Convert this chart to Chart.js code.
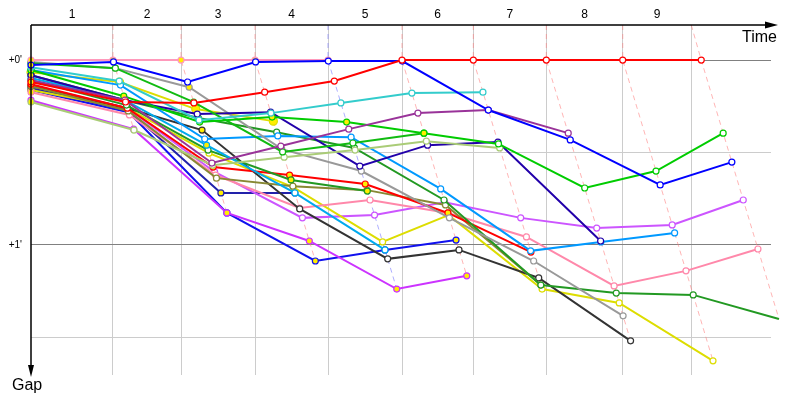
<!DOCTYPE html>
<html>
<head>
<meta charset="utf-8">
<script src="https://cdn.jsdelivr.net/npm/chart.js@4.4.1/dist/chart.umd.min.js"></script>
<style>
  html, body { margin: 0; padding: 0; background: #fff; }
  #wrap { width: 800px; height: 400px; }
</style>
</head>
<body>
<div id="wrap"><canvas id="gapChart" width="800" height="400"></canvas></div>
<script>
// lap labels, where each lap mark sits on the time axis (s), leader time at each lap (s)
const lapLabels = ['1', '2', '3', '4', '5', '6', '7', '8', '9'];
const lapMarks = [88.6, 162.2, 242.2, 321.1, 401.1, 478.2, 557.1, 639.7, 713.8];
const leaderTimes = [0, 88.6, 162.2, 242.2, 321.1, 401.1, 478.2, 557.1, 639.7, 724.6];
const gapTicks = [0, 30, 60, 90];
const gapTickLabels = ["+0'", '', "+1'", ''];

// gap to leader (s) per lap, lap 0 = start
const redGaps = [7.1, 13.6, 13.9, 10.4, 6.8, 0, 0, 0, 0, 0];
const blueGaps = [1.6, 0.6, 7.1, 0.6, 0.3, 0.3, 16.2, 25.9, 40.5, 33.1];
const pinkGaps = [0, 0, 0, 0, 0];
const cyanGaps = [2.3, 6.8, 19.5, 17.2, 13.9, 10.7, 10.4];
const purpleGaps = [6.5, 13.0, 33.4, 27.9, 22.4, 17.2, 16.2, 23.7];
const green1Gaps = [3.2, 11.7, 20.1, 18.5, 20.1, 23.7, 27.2, 41.5, 36.0, 23.7];
const green2Gaps = [1.0, 2.6, 13.6, 29.8, 26.9, 23.7];
const lightGreenGaps = [13.6, 22.7, 34.1, 31.5, 29.2, 26.3, 28.5];
const navyGaps = [4.9, 13.0, 17.5, 16.9, 34.4, 27.6, 26.6, 58.7];
const greyGaps = [0.6, 2.6, 8.8, 28.9, 36.0, 51.2, 65.2, 83.0];
const skyGaps = [3.2, 8.1, 25.6, 24.6, 25.0, 41.8, 61.9, 59.0, 56.1];
const sky2Gaps = [5.8, 13.0, 27.6, 43.1, 61.6];
const darkGreenGaps = [4.9, 13.0, 18.8, 23.4, 28.5, 45.4, 73.0, 75.6, 76.2, 84.0];
const darkGreen2Gaps = [6.5, 14.6, 29.2, 38.9, 42.5];
const red2Gaps = [7.8, 15.6, 34.7, 37.3, 40.2, 49.6, 62.3];
const oliveGaps = [8.4, 16.5, 38.3, 40.9, 42.2, 47.0, 73.0];
const blackGaps = [8.4, 15.6, 22.7, 48.3, 64.5, 61.6, 70.7, 91.1];
const pink2Gaps = [10.4, 17.8, 37.3, 48.0, 45.4, 49.6, 57.4, 73.3, 68.4, 61.3];
const yellowGaps = [3.9, 7.1, 15.9, 19.8];
const yellow2Gaps = [9.7, 15.6, 30.2, 41.2, 59.0, 50.3, 74.3, 78.8, 97.6];
const violetGaps = [8.1, 15.6, 36.3, 51.2, 50.3, 46.1, 51.2, 54.5, 53.5, 45.4];
const magentaGaps = [13.0, 22.4, 49.6, 58.7, 74.3, 70.0];
const blue2Gaps = [9.7, 16.9, 49.6, 65.2, 61.6, 58.4];
const navy2Gaps = [9.1, 16.2, 43.1, 43.1];

// laps run under yellow
const pinkYellow = [1, 2, 3, 4];
const greyYellow = [1, 2];
const green1Yellow = [1, 2, 3, 4, 5];
const darkGreen2Yellow = [3, 4];
const sky2Yellow = [2];
const red2Yellow = [2, 3, 4, 5, 6];
const blackYellow = [2];
const yellowYellow = [1, 2, 3];
const magentaYellow = [1, 2, 3, 4, 5];
const blue2Yellow = [2, 3, 4, 5];
const navy2Yellow = [2, 3];

const gapMin = -11.4;
const gapMax = 102.2;

const series = [
  { gaps: redGaps, yellow: [], color: '#ff0000' },
  { gaps: blueGaps, yellow: [], color: '#0000ff' },
  { gaps: pinkGaps, yellow: pinkYellow, color: '#ff99bb' },
  { gaps: cyanGaps, yellow: [], color: '#33cccc' },
  { gaps: purpleGaps, yellow: [], color: '#993399' },
  { gaps: green1Gaps, yellow: green1Yellow, color: '#00cc00' },
  { gaps: green2Gaps, yellow: [], color: '#11bb11' },
  { gaps: lightGreenGaps, yellow: [], color: '#aacc77' },
  { gaps: navyGaps, yellow: [], color: '#2200aa' },
  { gaps: greyGaps, yellow: greyYellow, color: '#999999' },
  { gaps: skyGaps, yellow: [], color: '#0099ff' },
  { gaps: sky2Gaps, yellow: sky2Yellow, color: '#00aaee' },
  { gaps: darkGreenGaps, yellow: [], color: '#229922' },
  { gaps: darkGreen2Gaps, yellow: darkGreen2Yellow, color: '#229922' },
  { gaps: red2Gaps, yellow: red2Yellow, color: '#ff0000' },
  { gaps: oliveGaps, yellow: [], color: '#888833' },
  { gaps: blackGaps, yellow: blackYellow, color: '#333333' },
  { gaps: pink2Gaps, yellow: [], color: '#ff88aa' },
  { gaps: yellowGaps, yellow: yellowYellow, color: '#dddd00', big: true },
  { gaps: yellow2Gaps, yellow: [], color: '#dddd00' },
  { gaps: violetGaps, yellow: [], color: '#cc55ff' },
  { gaps: magentaGaps, yellow: magentaYellow, color: '#cc33ff' },
  { gaps: blue2Gaps, yellow: blue2Yellow, color: '#1111ee' },
  { gaps: navy2Gaps, yellow: navy2Yellow, color: '#2222aa' }
];

const seriesSets = series.map(s => ({
  data: s.gaps.map((g, lap) => ({
    x: lap === 0 ? 0 : leaderTimes[lap] + g,
    y: g,
    flag: lap === 0 || s.yellow.includes(lap)
  })),
  borderColor: s.color,
  borderWidth: 2,
  pointRadius: s.big ? 4 : 3,
  pointBorderWidth: 1.2,
  pointBorderColor: s.color,
  pointBackgroundColor: c => (c.raw && c.raw.flag ? '#ffee00' : '#ffffff'),
  clip: false,
  order: 1
}));

// dashed line through every car's point on the same lap
const lapLineSets = lapMarks.map((mark, i) => {
  const lap = i + 1;
  const pts = series
    .filter(s => s.gaps.length > lap)
    .map(s => ({ x: leaderTimes[lap] + s.gaps[lap], y: s.gaps[lap] }))
    .sort((p, q) => p.y - q.y);
  return {
    data: [{ x: mark, y: gapMin }, ...pts],
    borderColor: lap === 4 ? 'rgba(120,120,255,0.6)' : 'rgba(255,120,120,0.55)',
    borderWidth: 1,
    borderDash: [5, 4],
    pointRadius: 0,
    clip: false,
    order: 2
  };
});

const xTicks = [];
lapMarks.forEach((mark, i) => {
  const prev = i === 0 ? 0 : lapMarks[i - 1];
  xTicks.push((prev + mark) / 2, mark);
});

const axisArrows = {
  id: 'axisArrows',
  afterDraw(chart) {
    const { ctx, chartArea: a } = chart;
    ctx.save();
    ctx.strokeStyle = '#000';
    ctx.fillStyle = '#000';
    ctx.lineWidth = 1.5;
    ctx.beginPath();
    ctx.moveTo(a.left, a.top);
    ctx.lineTo(a.right + 2, a.top);
    ctx.moveTo(a.left, a.top);
    ctx.lineTo(a.left, a.bottom - 10);
    ctx.stroke();
    ctx.beginPath();
    ctx.moveTo(a.right - 6, a.top - 3.5);
    ctx.lineTo(a.right + 7, a.top);
    ctx.lineTo(a.right - 6, a.top + 3.5);
    ctx.closePath();
    ctx.fill();
    ctx.beginPath();
    ctx.moveTo(a.left - 3, a.bottom - 10);
    ctx.lineTo(a.left, a.bottom + 2);
    ctx.lineTo(a.left + 3, a.bottom - 10);
    ctx.closePath();
    ctx.fill();
    ctx.font = '16px "Liberation Sans", Arial, sans-serif';
    ctx.textBaseline = 'alphabetic';
    ctx.textAlign = 'right';
    ctx.fillText('Time', a.right + 6, a.top + 17);
    ctx.textAlign = 'left';
    ctx.fillText('Gap', 12, a.bottom + 15);
    ctx.restore();
  }
};

Chart.defaults.font.family = '"Liberation Sans", Arial, sans-serif';

new Chart(document.getElementById('gapChart').getContext('2d'), {
  type: 'line',
  data: { datasets: [...seriesSets, ...lapLineSets] },
  options: {
    responsive: false,
    animation: false,
    layout: { padding: { left: 0, top: 0, right: 29, bottom: 25 } },
    plugins: { legend: { display: false }, tooltip: { enabled: false } },
    elements: { line: { tension: 0 } },
    scales: {
      x: {
        type: 'linear',
        position: 'top',
        min: 0,
        max: 800,
        afterFit: s => { s.height = 25; },
        afterBuildTicks: s => { s.ticks = xTicks.map(v => ({ value: v })); },
        grid: { color: c => (c.index % 2 ? '#cccccc' : 'rgba(0,0,0,0)'), drawTicks: false },
        border: { display: false },
        ticks: {
          autoSkip: false,
          maxRotation: 0,
          padding: 3,
          color: '#000',
          font: { size: 12 },
          callback: (v, i) => (i % 2 ? '' : lapLabels[i / 2])
        }
      },
      y: {
        type: 'linear',
        reverse: true,
        min: gapMin,
        max: gapMax,
        afterFit: s => { s.width = 31; },
        afterBuildTicks: s => { s.ticks = gapTicks.map(v => ({ value: v })); },
        grid: { color: c => (c.tick && c.tick.value % 60 === 0 ? '#808080' : '#cccccc'), drawTicks: false },
        border: { display: false },
        ticks: {
          padding: 9,
          color: '#000',
          font: { size: 10 },
          callback: (v, i) => gapTickLabels[i]
        }
      }
    }
  },
  plugins: [axisArrows]
});
</script>
</body>
</html>
